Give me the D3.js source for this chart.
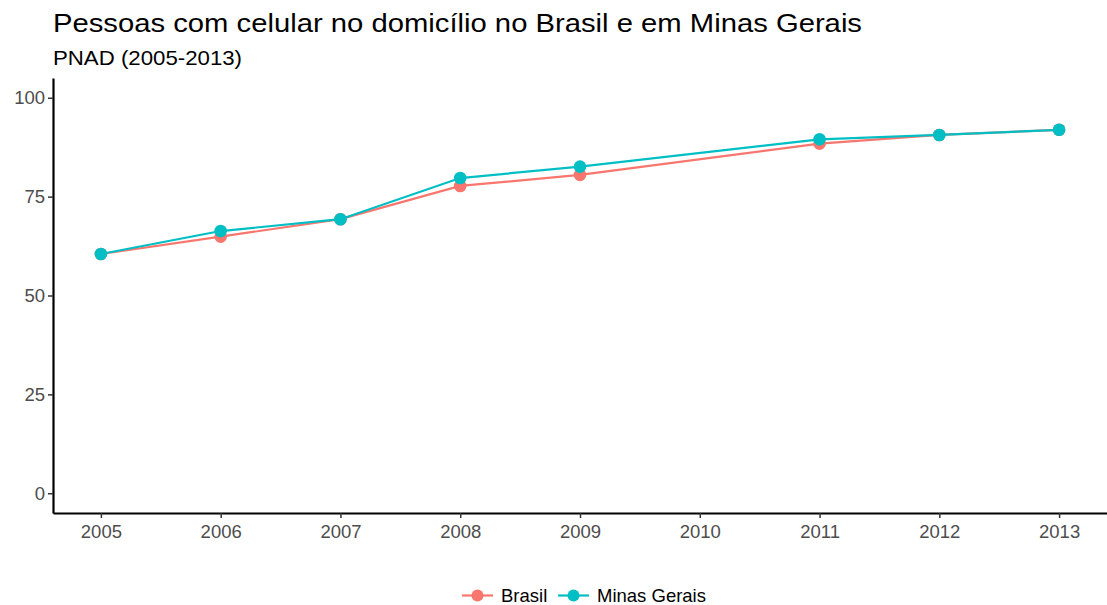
<!DOCTYPE html>
<html>
<head>
<meta charset="utf-8">
<script src="https://cdn.jsdelivr.net/npm/d3@7"></script>
<style>
	body { margin: 0; background: #fff; }
	text { font-family: "Liberation Sans", Arial, sans-serif; }
</style>
</head>
<body>
<div id="chart"></div>
<script>
// dados PNAD (2010 sem pesquisa)
var years = [2005, 2006, 2007, 2008, 2009, 2011, 2012, 2013];
var brasil = [60.5, 64.9, 69.3, 77.7, 80.5, 88.4, 90.6, 91.9];
var minas = [60.5, 66.3, 69.3, 79.7, 82.6, 89.5, 90.6, 91.9];
var seriesNames = ["Brasil", "Minas Gerais"];
var seriesColors = ["#F8766D", "#00BFC4"];
var xTicks = [2005, 2006, 2007, 2008, 2009, 2010, 2011, 2012, 2013];
var yTicks = [0, 25, 50, 75, 100];

var w = 1107,
	h = 605,
	mLeft = 53,
	mRight = 1107,
	mTop = 78,
	mBottom = 513;

var svg = d3.select("#chart")
	.append("svg")
	.attr("width", w)
	.attr("height", h);

var x = d3.scaleLinear().domain([2004.6, 2013.4]).range([mLeft, mRight]);
var y = d3.scaleLinear().domain([-5, 105]).range([mBottom, mTop]);

svg.append("text")
	.attr("x", 53)
	.attr("y", 32)
	.attr("font-size", "25px")
	.attr("textLength", 809)
	.attr("lengthAdjust", "spacingAndGlyphs")
	.attr("fill", "#000")
	.text("Pessoas com celular no domicílio no Brasil e em Minas Gerais");

svg.append("text")
	.attr("x", 53)
	.attr("y", 65)
	.attr("font-size", "21px")
	.attr("textLength", 189)
	.attr("lengthAdjust", "spacingAndGlyphs")
	.attr("fill", "#000")
	.text("PNAD (2005-2013)");

var yAxis = svg.append("g")
	.attr("transform", "translate(" + mLeft + ",0)")
	.call(d3.axisLeft(y).tickValues(yTicks).tickSize(5).tickSizeOuter(0).tickPadding(3));

var xAxis = svg.append("g")
	.attr("transform", "translate(0," + mBottom + ")")
	.call(d3.axisBottom(x).tickValues(xTicks).tickFormat(d3.format("d")).tickSize(5).tickSizeOuter(0).tickPadding(7));

[yAxis, xAxis].forEach(function(ax) {
	ax.select(".domain").attr("stroke", "#000").attr("stroke-width", 2.2);
	ax.selectAll(".tick line").attr("stroke", "#333").attr("stroke-width", 1.5);
	ax.selectAll(".tick text")
		.attr("font-size", "18.5px")
		.attr("fill", "#4D4D4D")
		.style("font-family", "Liberation Sans, Arial, sans-serif");
});

var data = [brasil, minas].map(function(vals, k) {
	return {
		name: seriesNames[k],
		color: seriesColors[k],
		values: years.map(function(yr, i) { return {year: yr, value: vals[i]}; })
	};
});

var line = d3.line()
	.x(function(d) { return x(d.year); })
	.y(function(d) { return y(d.value); });

var groups = svg.selectAll("g.series")
	.data(data)
	.enter().append("g")
	.attr("class", "series");

groups.append("path")
	.attr("d", function(d) { return line(d.values); })
	.attr("fill", "none")
	.attr("stroke", function(d) { return d.color; })
	.attr("stroke-width", 2.2);

groups.selectAll("circle")
	.data(function(d) { return d.values.map(function(v) { return {v: v, color: d.color}; }); })
	.enter().append("circle")
	.attr("cx", function(d) { return x(d.v.year); })
	.attr("cy", function(d) { return y(d.v.value); })
	.attr("r", 6.3)
	.attr("fill", function(d) { return d.color; });

// legenda
var legend = svg.append("g").attr("transform", "translate(462,595.5)");
var legendX = [0, 96];
var legendItems = legend.selectAll("g.item")
	.data(seriesNames)
	.enter().append("g")
	.attr("class", "item")
	.attr("transform", function(d, i) { return "translate(" + legendX[i] + ",0)"; });

legendItems.append("line")
	.attr("x1", 0).attr("x2", 31)
	.attr("y1", 0).attr("y2", 0)
	.attr("stroke", function(d, i) { return seriesColors[i]; })
	.attr("stroke-width", 2.2);

legendItems.append("circle")
	.attr("cx", 15.5).attr("cy", 0).attr("r", 6)
	.attr("fill", function(d, i) { return seriesColors[i]; });

legendItems.append("text")
	.attr("x", 39)
	.attr("y", 0)
	.attr("dy", "0.35em")
	.attr("font-size", "18.5px")
	.attr("fill", "#000")
	.text(function(d) { return d; });
</script>
</body>
</html>
